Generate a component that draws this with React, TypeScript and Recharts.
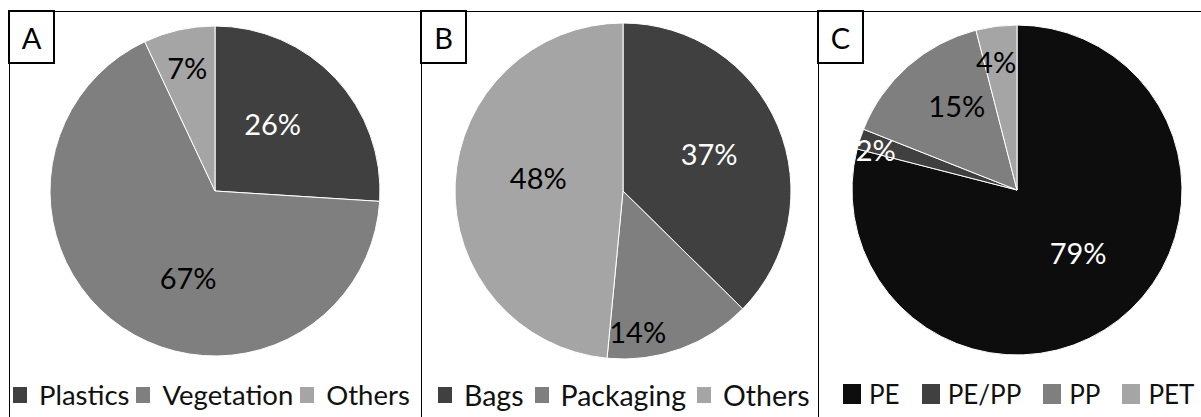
import { PieChart, Pie, Cell, Legend } from 'recharts';

const RADIAN = Math.PI / 180;

// panel A
const wasteNames = ['Plastics', 'Vegetation', 'Others'];
const wasteValues = [26, 67, 7];
const wasteColors = ['#404040', '#7f7f7f', '#a5a5a5'];

// panel B
const plasticNames = ['Bags', 'Packaging', 'Others'];
const plasticValues = [37, 14, 48];
const plasticColors = ['#404040', '#7f7f7f', '#a5a5a5'];

// panel C
const polymerNames = ['PE', 'PE/PP', 'PP', 'PET'];
const polymerValues = [79, 2, 15, 4];
const polymerColors = ['#0d0d0d', '#404040', '#7f7f7f', '#a5a5a5'];

const FONT = 'Lato, "Noto Sans", sans-serif';

type PanelProps = {
    letter: string;
    names: string[];
    values: number[];
    colors: string[];
    whiteLabels: number[];
    labelRadius: number[];
    labelNudge: number[];
    left: number;
    width: number;
    cx: number;
    cy: number;
    r: number;
    legendGap: number;
    legendLeft: number;
    legendFont: number;
    swatch: number;
    textGap: number;
};

function PiePanel(p: PanelProps) {
    const data = p.names.map((name, i) => ({ name, value: p.values[i], fill: p.colors[i] }));

    const renderLabel = (props: any) => {
        const { cx, cy, midAngle, outerRadius, index } = props;
        const rr = outerRadius * p.labelRadius[index];
        const ang = midAngle - p.labelNudge[index];
        const x = cx + rr * Math.cos(-ang * RADIAN);
        const y = cy + rr * Math.sin(-ang * RADIAN);
        return (
            <text
                x={x}
                y={y}
                textAnchor="middle"
                dominantBaseline="central"
                fontFamily={FONT}
                fontSize={29}
                fill={p.whiteLabels.includes(index) ? '#ffffff' : '#000000'}
            >
                {`${p.values[index]}%`}
            </text>
        );
    };

    const renderLegend = (props: any) => {
        const payload = props.payload || [];
        return (
            <div
                style={{
                    display: 'flex',
                    alignItems: 'center',
                    fontFamily: FONT,
                    fontSize: p.legendFont,
                    color: '#111',
                    whiteSpace: 'nowrap',
                }}
            >
                {payload.map((item: any, i: number) => (
                    <div key={i} style={{ display: 'flex', alignItems: 'center', marginRight: p.legendGap }}>
                        <span
                            style={{
                                display: 'inline-block',
                                flexShrink: 0,
                                width: p.swatch,
                                height: p.swatch + 2,
                                background: item.color || p.colors[i],
                                marginRight: p.textGap,
                            }}
                        />
                        <span>{item.value}</span>
                    </div>
                ))}
            </div>
        );
    };

    return (
        <div
            style={{
                position: 'absolute',
                left: p.left,
                top: 11,
                width: p.width,
                height: 420,
                borderTop: '1.5px solid #000',
                borderLeft: '1.5px solid #000',
                boxSizing: 'border-box',
            }}
        >
            <PieChart
                width={p.width - 2}
                height={404}
                margin={{ top: 0, right: 0, bottom: 0, left: 0 }}
                style={{ position: 'absolute', left: 0, top: 0 }}
            >
                <Pie
                    data={data}
                    dataKey="value"
                    nameKey="name"
                    cx={p.cx}
                    cy={p.cy}
                    outerRadius={p.r}
                    startAngle={90}
                    endAngle={-270}
                    stroke="#ffffff"
                    strokeWidth={1}
                    label={renderLabel}
                    labelLine={false}
                    isAnimationActive={false}
                >
                    {data.map((d, i) => (
                        <Cell key={i} fill={p.colors[i]} />
                    ))}
                </Pie>
                <Legend
                    content={renderLegend}
                    itemSorter={null}
                    wrapperStyle={{ position: 'absolute', left: p.legendLeft, top: 366, width: 'auto' }}
                />
            </PieChart>
            <div
                style={{
                    position: 'absolute',
                    left: -2,
                    top: -2,
                    width: 47,
                    height: 54,
                    border: '2px solid #000',
                    background: '#fff',
                    boxSizing: 'border-box',
                    display: 'flex',
                    alignItems: 'center',
                    justifyContent: 'center',
                    fontFamily: FONT,
                    fontSize: 29,
                    color: '#000',
                }}
            >
                {p.letter}
            </div>
        </div>
    );
}

export default function App() {
    return (
        <div style={{ position: 'absolute', left: 0, top: 0, width: 1201, height: 417, background: '#fff', overflow: 'hidden' }}>
            <PiePanel
                letter="A"
                names={wasteNames}
                values={wasteValues}
                colors={wasteColors}
                whiteLabels={[0]}
                labelRadius={[0.54, 0.55, 0.77]}
                labelNudge={[-6.5, -17, 0]}
                left={9}
                width={412}
                cx={205}
                cy={179}
                r={165}
                legendGap={7}
                legendLeft={3}
                legendFont={27.5}
                swatch={14}
                textGap={12}
            />
            <PiePanel
                letter="B"
                names={plasticNames}
                values={plasticValues}
                colors={plasticColors}
                whiteLabels={[0]}
                labelRadius={[0.56, 0.84, 0.51]}
                labelNudge={[-1, 14, 6]}
                left={421}
                width={397}
                cx={201}
                cy={179}
                r={168}
                legendGap={11}
                legendLeft={16}
                legendFont={28.5}
                swatch={14}
                textGap={12}
            />
            <PiePanel
                letter="C"
                names={polymerNames}
                values={polymerValues}
                colors={polymerColors}
                whiteLabels={[0, 1]}
                labelRadius={[0.53, 0.89, 0.63, 0.79]}
                labelNudge={[-6.5, -2, 6, -2]}
                left={818}
                width={383}
                cx={198}
                cy={178}
                r={165}
                legendGap={22}
                legendLeft={24}
                legendFont={26}
                swatch={18}
                textGap={8}
            />
        </div>
    );
}
